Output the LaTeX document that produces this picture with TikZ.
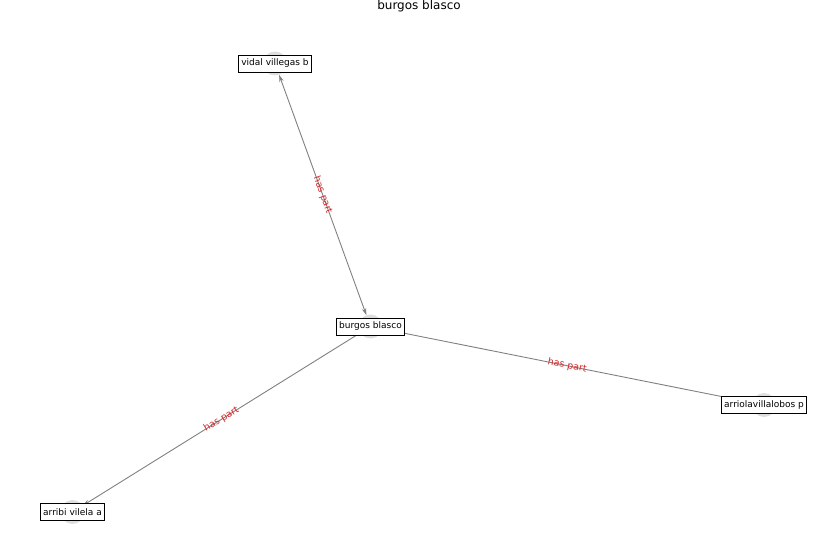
\documentclass[tikz,border=0pt]{standalone}
\usepackage{fontspec}
\setmainfont{DejaVu Sans}
\usetikzlibrary{arrows.meta}
\definecolor{edgegray}{RGB}{128,128,128}
\definecolor{dotgray}{RGB}{222,222,222}
\definecolor{partred}{RGB}{214,39,40}

\begin{document}
\begin{tikzpicture}[x=1pt,y=-1pt]
    \tikzstyle{dot}=[circle,fill=dotgray,inner sep=0pt,minimum size=24pt]
    \tikzstyle{namebox}=[draw=black,fill=white,line width=0.8pt,inner xsep=3pt,inner ysep=0pt,minimum height=17pt,font=\fontsize{9}{10}\selectfont]
    \tikzstyle{rel}=[->,>={Stealth[length=7pt,width=4.5pt]},draw=edgegray,line width=0.9pt]
    \tikzstyle{partlabel}=[sloped,text=partred,inner sep=0pt,font=\fontsize{9.5}{10}\selectfont]
    \useasboundingbox (0,0) rectangle (837,559);

    \node[font=\fontsize{12}{14}\selectfont] (title) at (419,6) {burgos blasco};

    \node[dot] (dburgos) at (370.5,326.5) {};
    \node[dot] (dvidal) at (275,63.5) {};
    \node[dot] (darriola) at (764,405) {};
    \node[dot] (darribi) at (72.5,512) {};

    % edges
    \draw[rel,<->] (dvidal) -- node[partlabel] {has part} (dburgos);
    \draw[rel] (dburgos) -- node[partlabel] {has part} (darriola);
    \draw[rel] (dburgos) -- node[partlabel] {has part} (darribi);

    % names
    \node[namebox] (burgos) at (dburgos) {burgos blasco};
    \node[namebox] (vidal) at (dvidal) {vidal villegas b};
    \node[namebox] (arriola) at (darriola) {arriolavillalobos p};
    \node[namebox] (arribi) at (darribi) {arribi vilela a};

\end{tikzpicture}
\end{document}
